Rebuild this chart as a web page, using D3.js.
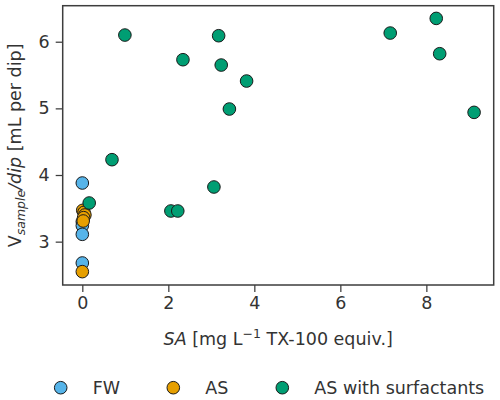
<!DOCTYPE html>
<html><head><meta charset="utf-8">
<script src="https://cdn.jsdelivr.net/npm/d3@7"></script>
<style>body{margin:0;background:#fff}svg{display:block}text{font-family:"DejaVu Sans",sans-serif;fill:#333}</style>
</head><body>
<script>
const seriesNames = ["FW", "AS", "AS with surfactants"];
const seriesColors = ["#56B4E9", "#E69F00", "#009E73"];
const fwX = [0, 0, 0, 0, 0];
const fwY = [3.88, 3.30, 3.24, 3.11, 2.68];
const asX = [0.01, 0.04, 0.06, 0.03, 0.02, 0.0];
const asY = [3.47, 3.44, 3.40, 3.36, 3.31, 2.55];
const surfX = [0.99, 2.34, 3.17, 3.23, 3.42, 3.82, 0.69, 3.06, 7.16, 8.23, 8.31, 9.11, 0.16, 2.06, 2.22];
const surfY = [6.10, 5.73, 6.09, 5.65, 4.99, 5.41, 4.23, 3.82, 6.13, 6.35, 5.82, 4.94, 3.58, 3.46, 3.46];
const xTicks = [0, 2, 4, 6, 8];
const yTicks = [3, 4, 5, 6];

const W = 500, H = 400;
const FS = 17.5;
const m = {left: 62.7, right: 493.7, top: 5.7, bottom: 285};
const svg = d3.select("body").append("svg").attr("width", W).attr("height", H);
const x = d3.scaleLinear().domain([-0.456, 9.566]).range([m.left, m.right]);
const y = d3.scaleLinear().domain([2.3495, 6.5405]).range([m.bottom, m.top]);

const ax = svg.append("g").attr("transform", `translate(0,${m.bottom})`)
  .call(d3.axisBottom(x).tickValues(xTicks).tickSize(7).tickPadding(5).tickFormat(d3.format("d")));
const ay = svg.append("g").attr("transform", `translate(${m.left},0)`)
  .call(d3.axisLeft(y).tickValues(yTicks).tickSize(7).tickPadding(6).tickFormat(d3.format("d")));
[ax, ay].forEach(g => {
  g.select(".domain").remove();
  g.selectAll("line").attr("stroke", "#3d3d3d").attr("stroke-width", 1.25);
  g.selectAll("text").attr("font-size", FS).attr("fill", "#333").attr("font-family", "DejaVu Sans");
});
svg.append("rect").attr("x", m.left).attr("y", m.top)
  .attr("width", m.right - m.left).attr("height", m.bottom - m.top)
  .attr("fill", "none").attr("stroke", "#3d3d3d").attr("stroke-width", 1.5);

const series = [[fwX, fwY], [asX, asY], [surfX, surfY]];
series.forEach(([xs, ys], i) => {
  svg.append("g").selectAll("circle").data(xs.map((v, j) => [v, ys[j]])).join("circle")
    .attr("cx", d => x(d[0])).attr("cy", d => y(d[1])).attr("r", 6.3)
    .attr("fill", seriesColors[i]).attr("stroke", "#1a1a1a").attr("stroke-width", 1);
});

// x label
const xl = svg.append("text").attr("x", (m.left + m.right) / 2).attr("y", 345)
  .attr("text-anchor", "middle").attr("font-size", FS);
xl.append("tspan").attr("font-style", "italic").text("SA");
xl.append("tspan").text(" [mg L");
xl.append("tspan").attr("font-size", 12.5).attr("dy", -7).text("\u22121");
xl.append("tspan").attr("dy", 7).text(" TX-100 equiv.]");

// y label
const yl = svg.append("text").attr("transform", `translate(21,${(m.top + m.bottom) / 2}) rotate(-90)`)
  .attr("text-anchor", "middle").attr("font-size", FS);
yl.append("tspan").text("V");
yl.append("tspan").attr("font-style", "italic").attr("font-size", 12.5).attr("dy", 4).text("sample");
yl.append("tspan").attr("font-style", "italic").attr("dy", -4).text("/dip");
yl.append("tspan").text(" [mL per dip]");

// legend
const legX = [60.7, 173.3, 282.3];
seriesNames.forEach((n, i) => {
  svg.append("circle").attr("cx", legX[i]).attr("cy", 387.7).attr("r", 6.3)
    .attr("fill", seriesColors[i]).attr("stroke", "#1a1a1a").attr("stroke-width", 1);
  svg.append("text").attr("x", legX[i] + 32).attr("y", 394).attr("font-size", FS).text(n);
});
</script>
</body></html>
